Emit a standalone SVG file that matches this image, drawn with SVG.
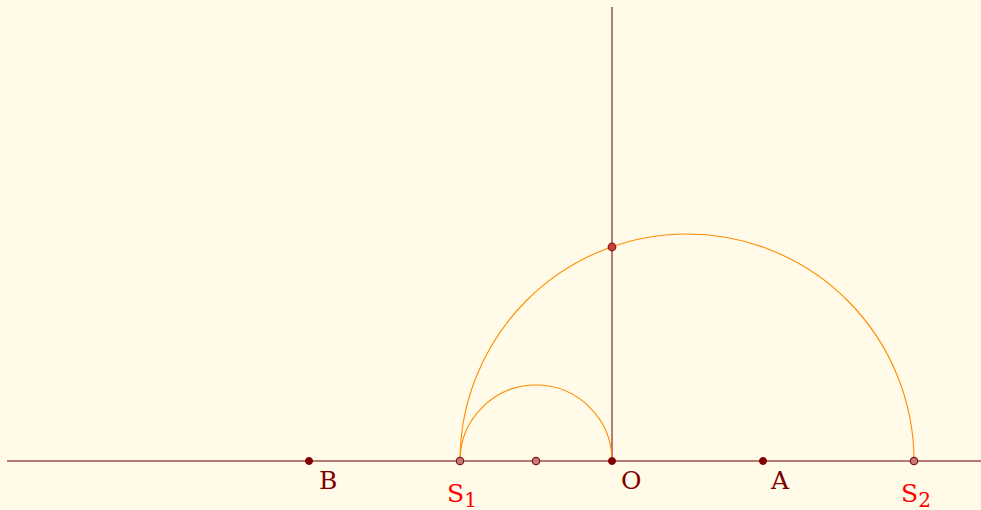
<svg xmlns="http://www.w3.org/2000/svg" width="981" height="510" viewBox="0 0 981 510">
<style>
.ln{stroke:#a0504a;stroke-width:1.5;fill:none}
.arc{stroke:#ff8c00;stroke-width:1.1;fill:none}
.pd{fill:#800000;stroke:#800000;stroke-width:1}
.pl{fill:#c87878;stroke:#7a1a1a;stroke-width:1.2}
.pi{fill:#d04030;stroke:#7a1a1a;stroke-width:1.2}
.lb{font-family:"DejaVu Serif","Liberation Serif",serif;font-size:25px;fill:#800000}
.ls{font-family:"DejaVu Serif","Liberation Serif",serif;font-size:25px;fill:#ff0000}
.sub{font-size:20px}
</style>
<rect width="981" height="510" fill="#fffbe8"/>
<g id="connectors">
<line class="ln" x1="7" y1="461" x2="981" y2="461"/>
<line class="ln" x1="612" y1="7" x2="612" y2="461"/>
<path class="arc" d="M460,461 A227,227 0 0 1 914,461"/>
<path class="arc" d="M460,461 A76,76 0 0 1 612,461"/>
</g>
<g id="B"><circle class="pd" cx="309" cy="461" r="3.5"/><text class="lb" x="319" y="488.5">B</text></g>
<g id="S1"><circle class="pl" cx="460" cy="461" r="3.7"/><text class="ls" x="447" y="502">S<tspan class="sub" dy="4.5">1</tspan></text></g>
<g id="M"><circle class="pl" cx="536" cy="461" r="3.7"/></g>
<g id="O"><circle class="pd" cx="612" cy="461" r="3.5"/><text class="lb" x="621" y="488.5">O</text></g>
<g id="A"><circle class="pd" cx="763" cy="461" r="3.5"/><text class="lb" x="771" y="488.5">A</text></g>
<g id="S2"><circle class="pl" cx="914" cy="461" r="3.7"/><text class="ls" x="901" y="502">S<tspan class="sub" dy="4.5">2</tspan></text></g>
<g id="P"><circle class="pi" cx="612" cy="247" r="3.8"/></g>
</svg>
